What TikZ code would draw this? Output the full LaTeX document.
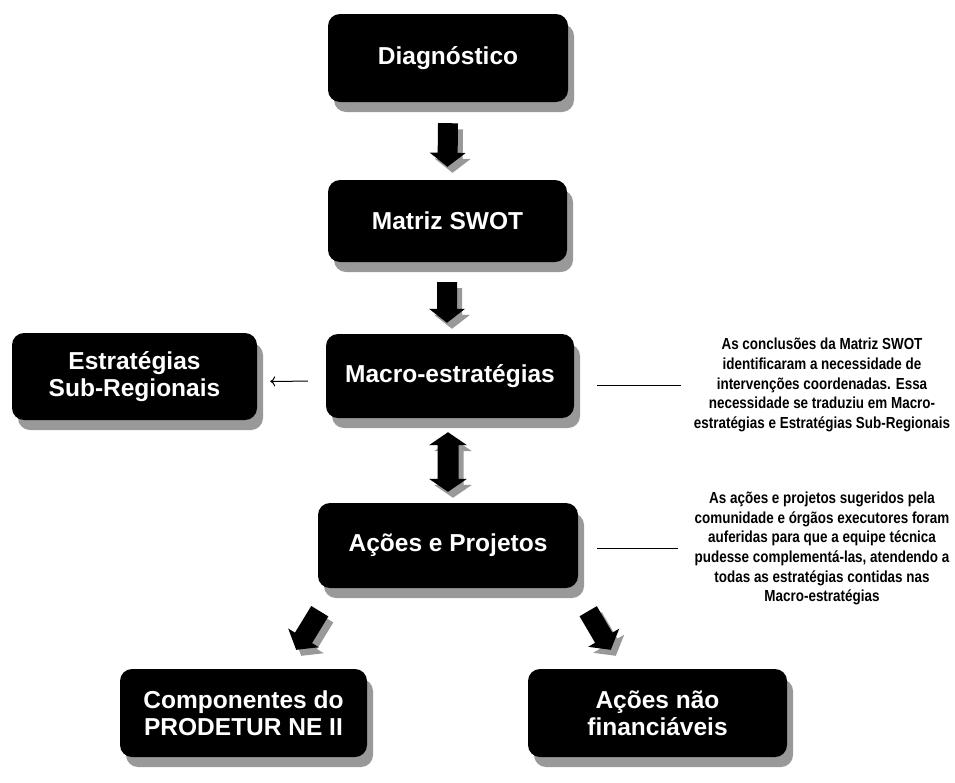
\documentclass[tikz,border=0pt]{standalone}
\usepackage{fontspec}
\setmainfont{Liberation Sans}
\newfontfamily\notefont[FakeStretch=0.84]{Liberation Sans}
\usepackage{tikz}
\usetikzlibrary{calc,shadows,arrows.meta}
\tikzset{
	box/.style={fill=black,text=white,rounded corners=12pt,align=center,inner sep=2pt,
		font=\bfseries\fontsize{24.5}{27}\selectfont,
		drop shadow={shadow xshift=6pt,shadow yshift=-10pt,fill=black!40,opacity=1}},
	note/.style={align=center,inner sep=0pt,font=\notefont\bfseries\fontsize{16}{19.6}\selectfont},
	thinline/.style={line width=1pt},
	arrowshade/.style={fill=black!40,transform canvas={shift={(5pt,-6pt)}}},
	arrowbody/.style={fill=black}
}
% fat arrow from #1 (tail) to #2 (tip)
\newcommand{\fatarrow}[2]{%
	\coordinate (fh) at ($(#2)!14pt!(#1)$);
	\foreach \look in {arrowshade,arrowbody}
		\fill[\look] ($(#1)!10pt!90:(#2)$) -- ($(fh)!10pt!90:(#2)$) -- ($(fh)!18pt!90:(#2)$) -- (#2)
			-- ($(fh)!18pt!-90:(#2)$) -- ($(fh)!10pt!-90:(#2)$) -- ($(#1)!10pt!-90:(#2)$) -- cycle;
}
% fat arrow with a head at both ends
\newcommand{\fatdoublearrow}[2]{%
	\coordinate (ha) at ($(#1)!13pt!(#2)$);
	\coordinate (hb) at ($(#2)!13pt!(#1)$);
	\foreach \look in {arrowshade,arrowbody}
		\fill[\look] (#1) -- ($(ha)!19pt!90:(#2)$) -- ($(ha)!10.5pt!90:(#2)$) -- ($(hb)!10.5pt!-90:(#1)$)
			-- ($(hb)!19pt!-90:(#1)$) -- (#2) -- ($(hb)!19pt!90:(#1)$) -- ($(hb)!10.5pt!90:(#1)$)
			-- ($(ha)!10.5pt!-90:(#2)$) -- ($(ha)!19pt!-90:(#2)$) -- cycle;
}

\begin{document}
\begin{tikzpicture}[x=1pt,y=-1pt]
	\useasboundingbox (0,0) rectangle (955,782);
	\begin{scope}
		\node[box,minimum width=240pt,minimum height=88pt] (diag) at (448,58) {Diagnóstico};
		\node[box,minimum width=239pt,minimum height=82pt] (swot) at (447.5,221) {Matriz SWOT};
		\node[box,minimum width=248pt,minimum height=84pt] (macro) at (450,376) {Macro-estratégias};
		\node[box,minimum width=245pt,minimum height=87pt] (estr) at (134.5,376.5) {Estratégias\\Sub-Regionais};
		\node[box,minimum width=260pt,minimum height=85pt] (acoes) at (448,545.5) {Ações e Projetos};
		\node[box,minimum width=247pt,minimum height=88pt] (comp) at (243.5,713) {Componentes do\\PRODETUR NE II};
		\node[box,minimum width=259pt,minimum height=88pt] (naofin) at (657.5,713) {Ações não\\financiáveis};
	\end{scope}
	\begin{scope}
		\node[note] (note1) at (822,385) {As conclusões da Matriz SWOT\\identificaram a necessidade de\\intervenções coordenadas. Essa\\necessidade se traduziu em Macro-\\estratégias e Estratégias Sub-Regionais};
		\node[note] (note2) at (822,548.5) {As ações e projetos sugeridos pela\\comunidade e órgãos executores foram\\auferidas para que a equipe técnica\\pudesse complementá-las, atendendo a\\todas as estratégias contidas nas\\Macro-estratégias};
	\end{scope}
	\coordinate (a1) at ($(diag.south)+(0,21)$);
	\coordinate (b1) at ($(swot.north)+(0,-13)$);
	\coordinate (a2) at ($(swot.south)+(-0.5,20)$);
	\coordinate (b2) at ($(macro.north)+(-3,-11)$);
	\coordinate (a3) at ($(macro.south)+(-2,14)$);
	\coordinate (b3) at ($(acoes.north)+(0,-11)$);
	\coordinate (a4) at ($(acoes.south west)+(2,23)$);
	\coordinate (b4) at ($(comp.north east)+(-71,-19)$);
	\coordinate (a5) at ($(acoes.south east)+(10,23)$);
	\coordinate (b5) at ($(naofin.north west)+(83,-19)$);
	\fatarrow{a1}{b1}
	\fatarrow{a2}{b2}
	\fatdoublearrow{a3}{b3}
	\fatarrow{a4}{b4}
	\fatarrow{a5}{b5}
	\draw[thinline,-{To[length=5pt,width=10pt]},shorten <=18pt,shorten >=13pt] ([yshift=-5pt]macro.west) -- ([yshift=-5pt]estr.east);
	\draw[thinline,shorten <=23pt,shorten >=13pt] (macro.east |- note1.west) -- (note1.west);
	\draw[thinline,shorten <=19pt,shorten >=16pt] (acoes.east |- note2.west) -- (note2.west);
\end{tikzpicture}
\end{document}
